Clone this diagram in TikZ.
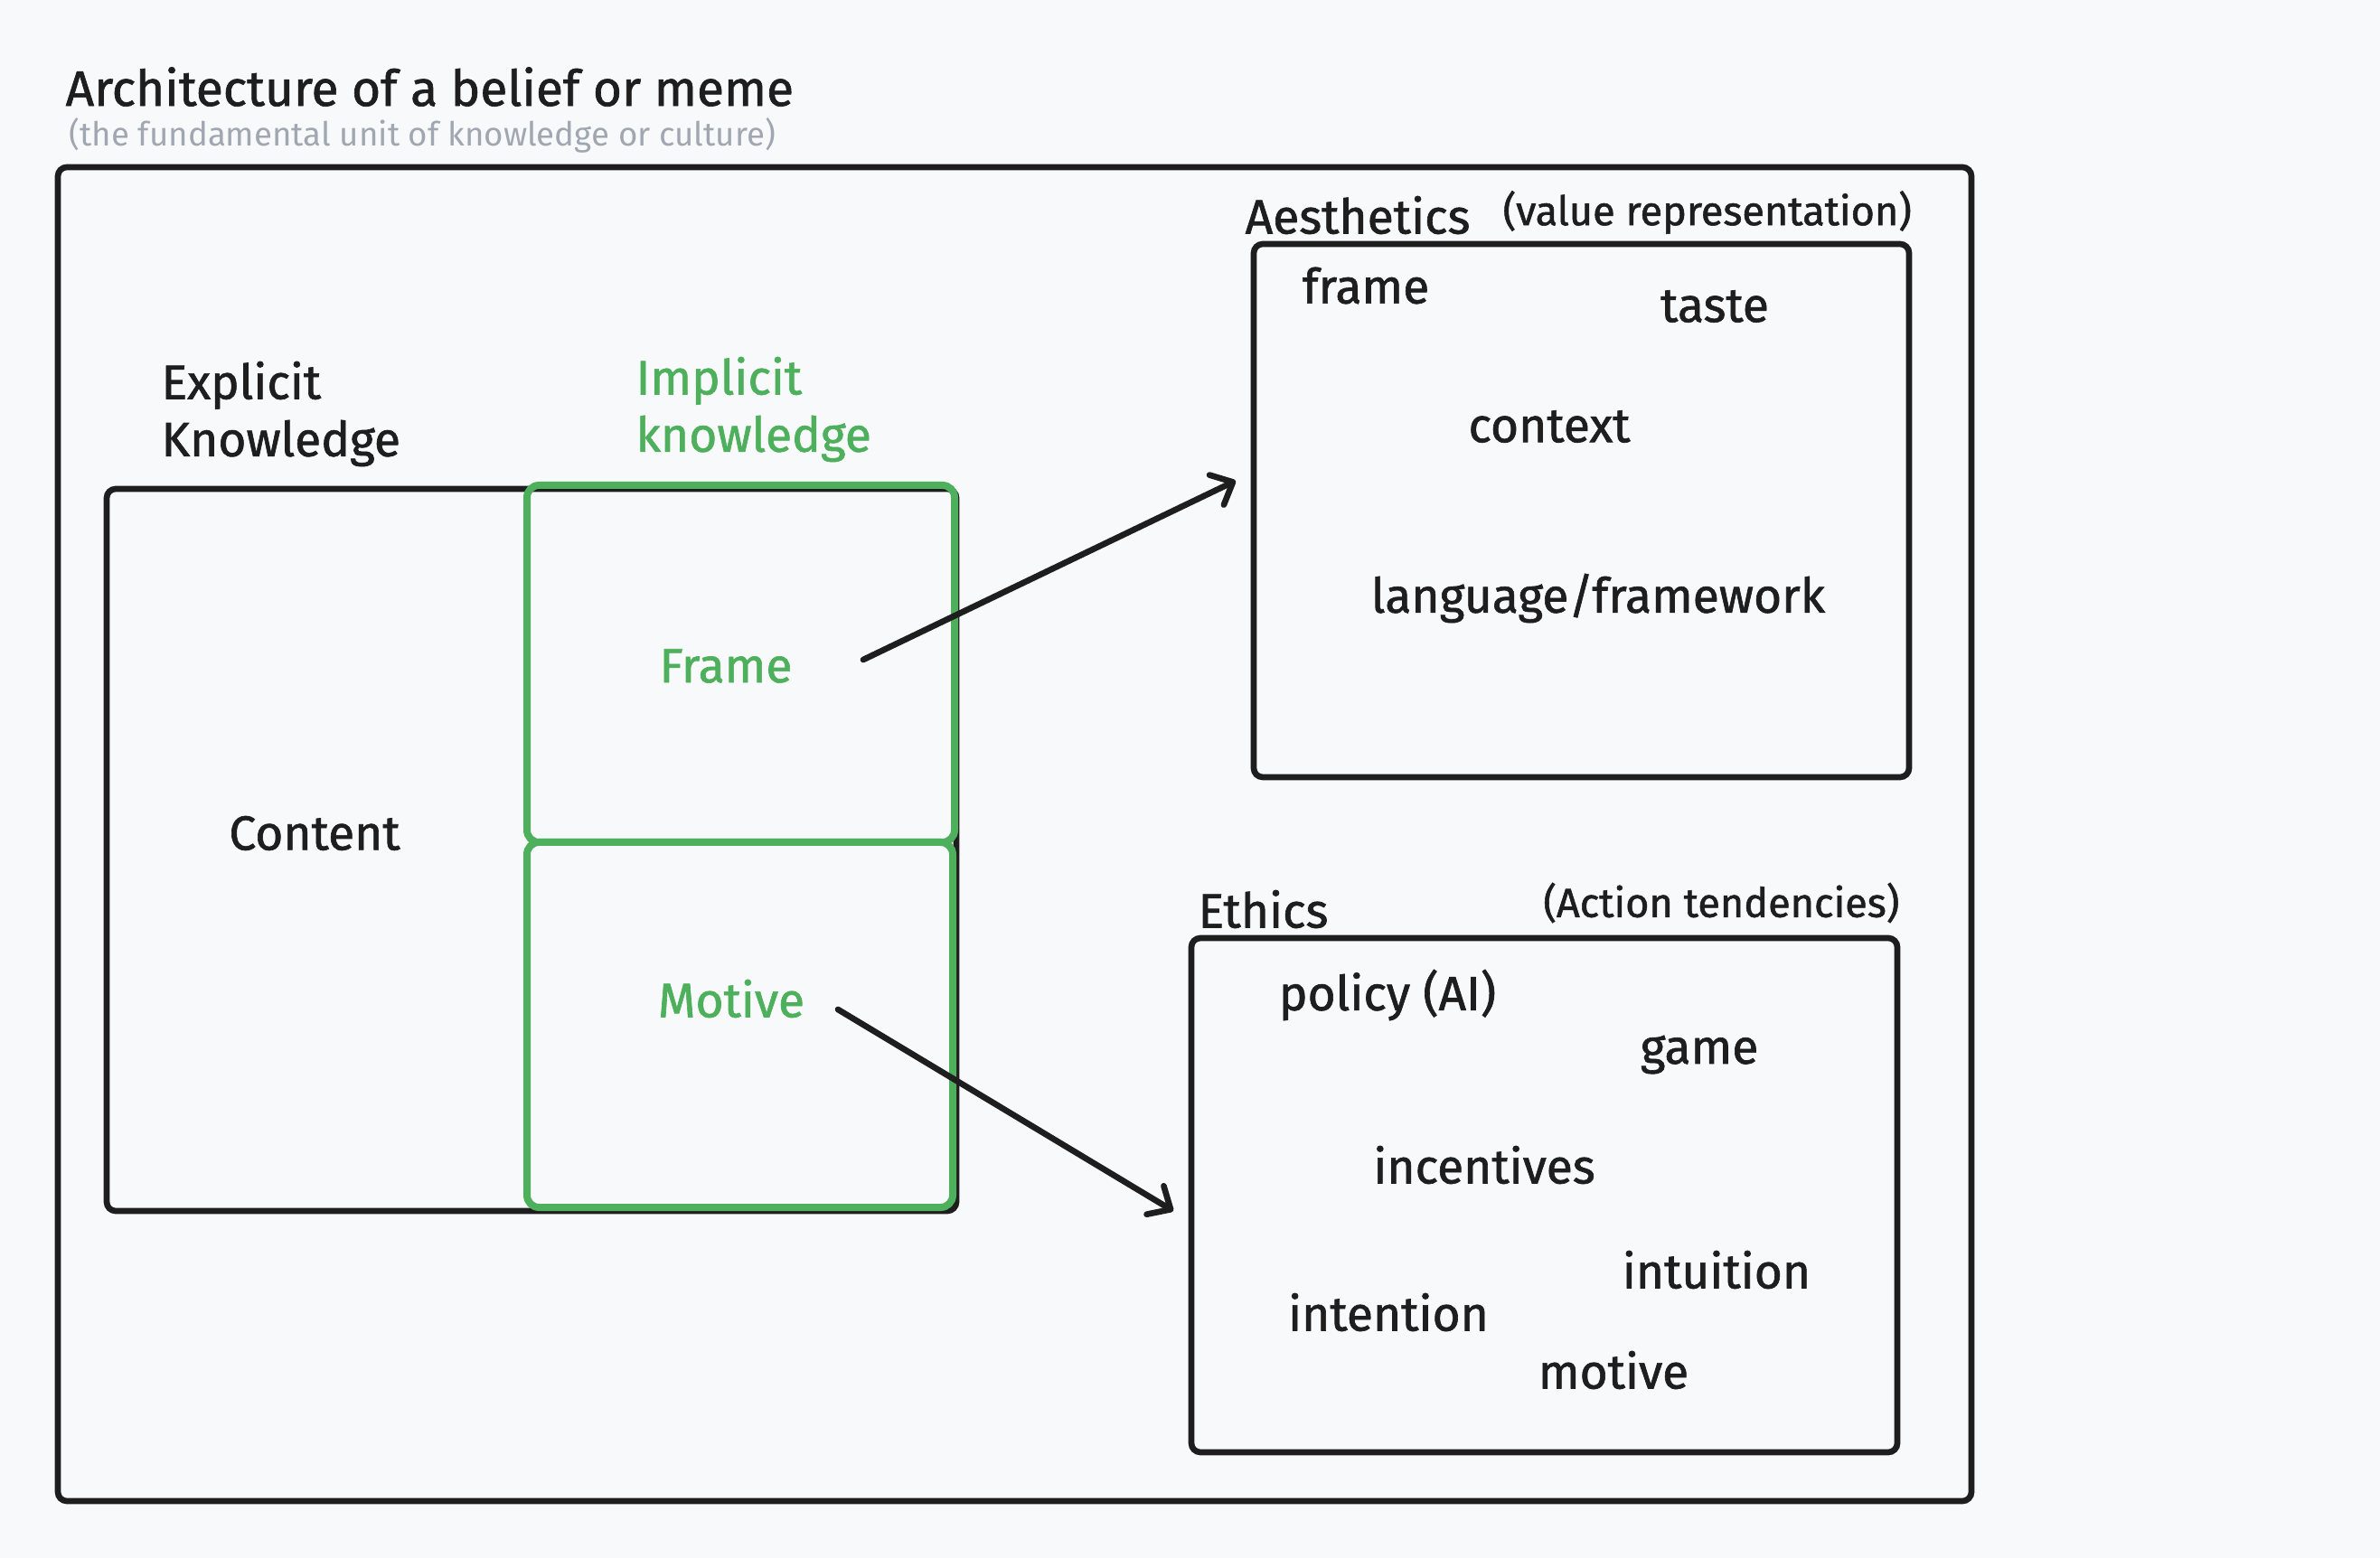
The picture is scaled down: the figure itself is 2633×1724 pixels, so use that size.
\documentclass[tikz,border=0pt]{standalone}
\usepackage{fontspec}
\setmainfont{Fira Sans}[FakeBold=1.2]
\newfontfamily\plainfont{Fira Sans}
\usetikzlibrary{arrows.meta}
\definecolor{ink}{HTML}{1E1E1E}
\definecolor{leaf}{RGB}{78,176,92}
\definecolor{paper}{RGB}{248,249,251}
\definecolor{muted}{RGB}{160,167,177}
\tikzset{
  box/.style={draw=ink, line width=2pt, rounded corners=3pt},
  greenbox/.style={draw=leaf, line width=2.4pt, rounded corners=4pt},
  word/.style={text=ink, inner sep=0pt, font=\fontsize{16}{19}\selectfont},
  small/.style={text=ink, inner sep=0pt, font=\fontsize{13.5}{16}\selectfont},
  link/.style={draw=ink, line width=2pt, line cap=round,
    -{Straight Barb[length=6pt, width=11pt, round]}}
}
\begin{document}
\begin{tikzpicture}[x=0.3pt, y=-0.3pt]
  \fill[paper] (0,0) rectangle (2633,1724);
  \useasboundingbox (0,0) rectangle (2633,1724);
  % title
  \node[word, anchor=west, font=\fontsize{16.5}{19}\selectfont] (title) at (72,96)
    {Architecture of a belief or meme};
  \node[anchor=west, inner sep=0pt, text=muted, font=\plainfont\fontsize{11}{13}\selectfont] (sub) at (76,150)
    {(the fundamental unit of knowledge or culture)};
  % frames
  \draw[box] (64,185) rectangle (2181,1661);
  \draw[box] (118,541) rectangle (1058,1340);
  \draw[greenbox] (583,537) rectangle (1056,932);
  \draw[greenbox] (583,932) rectangle (1054,1336);
  \draw[box] (1387,270) rectangle (2112,860);
  \draw[box] (1318,1038) rectangle (2099,1607);
  % knowledge
  \node[word, anchor=west, align=left] (explicit) at (178,458)
    {Explicit\\Knowledge};
  \node[word, anchor=west, align=left, text=leaf] (implicit) at (703,453)
    {Implicit\\knowledge};
  \node[word] (content) at (348,922) {Content};
  \node[word, text=leaf] (frame) at (803,737) {Frame};
  \node[word, text=leaf] (motive) at (809,1105) {Motive};
  % aesthetics
  \node[word, anchor=west] (aes) at (1377,238) {Aesthetics};
  \node[small, anchor=west] (valrep) at (1662,235) {(value representation)};
  \node[word] (aframe) at (1511,316) {frame};
  \node[word] (taste) at (1897,339) {taste};
  \node[word] (context) at (1714,472) {context};
  \node[word] (lang) at (1768,662) {language/framework};
  % ethics
  \node[word, anchor=west] (ethics) at (1325,1006) {Ethics};
  \node[small, anchor=east] (acttend) at (2102,999) {(Action tendencies)};
  \node[word] (policy) at (1535,1101) {policy (AI)};
  \node[word] (game) at (1880,1167) {game};
  \node[word] (incent) at (1642,1289) {incentives};
  \node[word] (intuit) at (1899,1405) {intuition};
  \node[word] (intent) at (1536,1452) {intention};
  \node[word] (emotive) at (1785,1516) {motive};
  % arrows
  \coordinate (frameout) at (955,730);
  \coordinate (aesin) at (1367,532);
  \coordinate (motiveout) at (927,1117);
  \coordinate (ethin) at (1298,1340);
  \draw[link] (frameout) -- (aesin);
  \draw[link] (motiveout) -- (ethin);
\end{tikzpicture}
\end{document}
